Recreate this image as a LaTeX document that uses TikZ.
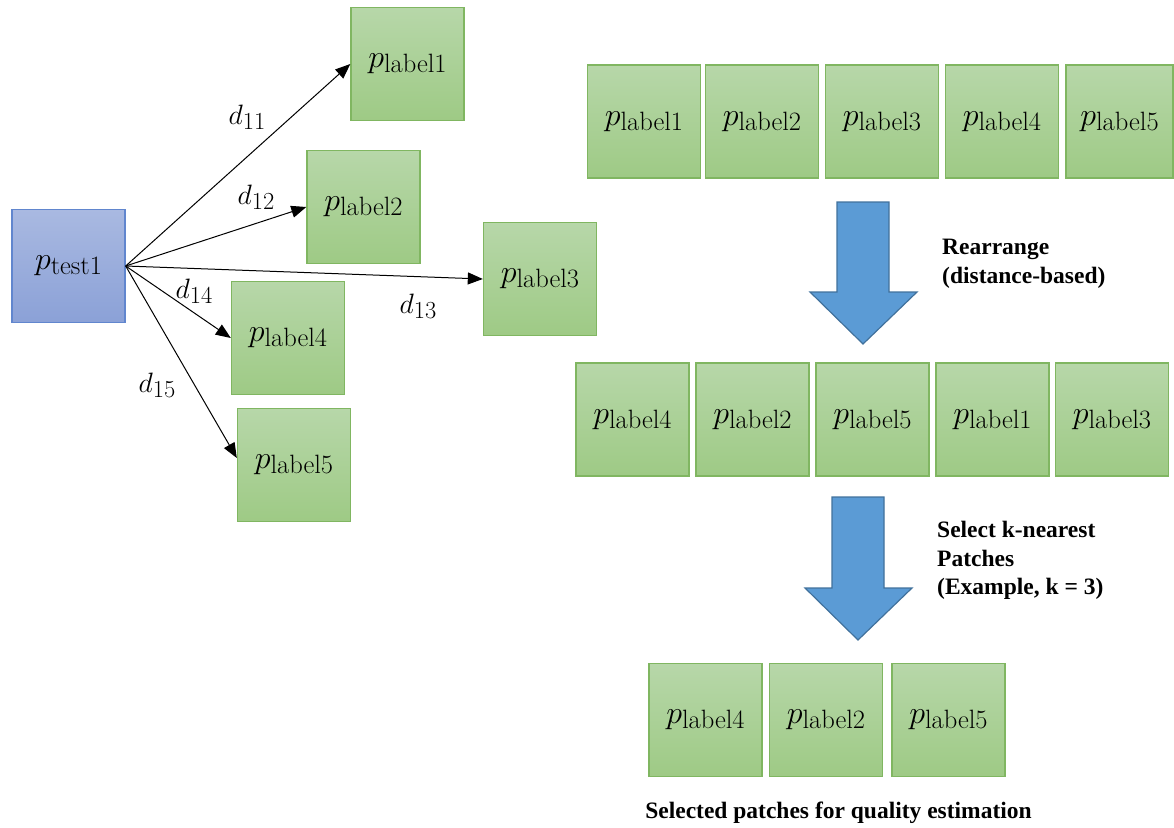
\RequirePackage{fix-cm}
\documentclass[tikz,border=0pt]{standalone}
\usepackage{fontspec}
\newfontfamily\tnr{Liberation Serif}
\usetikzlibrary{arrows.meta,calc}

\definecolor{patchtop}{HTML}{B7D7A9}
\definecolor{patchbot}{HTML}{9ECA85}
\definecolor{patchedge}{HTML}{80B661}
\definecolor{testtop}{HTML}{A9B9E1}
\definecolor{testbot}{HTML}{8BA1D7}
\definecolor{testedge}{HTML}{6186CE}
\definecolor{arrowfill}{HTML}{5B9BD5}
\definecolor{arrowedge}{HTML}{41719C}

% patch name: italic p with an upright, lowered subscript
\newcommand{\patchname}[1]{{\fontsize{32}{32}\selectfont$p$}\raisebox{-5pt}{\fontsize{26.5}{26.5}\selectfont #1}}
% distance name: italic d with a lowered numeric subscript
\newcommand{\distname}[1]{{\fontsize{28}{28}\selectfont$d$}\raisebox{-5pt}{\fontsize{24.5}{24.5}\selectfont #1}}

\begin{document}
\begin{tikzpicture}[x=1pt,y=-1pt,
  patchbox/.style={draw=patchedge, line width=1.4pt, top color=patchtop, bottom color=patchbot,
    minimum width=113pt, minimum height=113pt, inner sep=0pt},
  testbox/.style={draw=testedge, line width=1.4pt, top color=testtop, bottom color=testbot,
    minimum width=113pt, minimum height=113pt, inner sep=0pt},
  conn/.style={line width=1pt, -{Triangle[length=15pt,width=12pt]}},
  dlabel/.style={inner sep=0pt},
  bigarrow/.style={fill=arrowfill, draw=arrowedge, line width=1.2pt, line join=miter},
  note/.style={font=\tnr\bfseries\fontsize{23.5}{28.5}\selectfont, align=left, inner sep=0pt, anchor=north west}
]
\useasboundingbox (0,0) rectangle (1174,827);

% --- distances from the test patch to each labelled patch ---
\node[testbox]  (t)  at (68.5,266) {\patchname{test1}};
\node[patchbox] (l1) at (407.5,64) {\patchname{label1}};
\node[patchbox] (l2) at (363.5,207) {\patchname{label2}};
\node[patchbox] (l3) at (540,279) {\patchname{label3}};
\node[patchbox] (l4) at (288,338) {\patchname{label4}};
\node[patchbox] (l5) at (294,465) {\patchname{label5}};

\draw[conn] (t.east) -- (l1.west);
\draw[conn] (t.east) -- (l2.west);
\draw[conn] (t.east) -- (l3.west);
\draw[conn] (t.east) -- (l4.west);
\draw[conn] (t.east) -- ([yshift=7pt]l5.west);

\node[dlabel] (d11) at (247,117) {\distname{11}};
\node[dlabel] (d12) at (256,197) {\distname{12}};
\node[dlabel] (d13) at (418,306) {\distname{13}};
\node[dlabel] (d14) at (194,291) {\distname{14}};
\node[dlabel] (d15) at (157,385) {\distname{15}};

% --- original order ---
\node[patchbox] (a1) at (644,121.5) {\patchname{label1}};
\node[patchbox] (a2) at (762,121.5) {\patchname{label2}};
\node[patchbox] (a3) at (882,121.5) {\patchname{label3}};
\node[patchbox] (a4) at (1002,121.5) {\patchname{label4}};
\node[patchbox, minimum width=107pt] (a5) at (1119.5,121.5) {\patchname{label5}};

% --- rearrange step ---
\draw[bigarrow] (837,202) -- (889,202) -- (889,292) -- (917,292) -- (863,344)
  -- (810,292) -- (837,292) -- cycle;
\node[note] (rearr) at (942,239) {Rearrange\\(distance-based)};

% --- sorted by distance ---
\node[patchbox] (b1) at (632.5,419.5) {\patchname{label4}};
\node[patchbox] (b2) at (752.5,419.5) {\patchname{label2}};
\node[patchbox] (b3) at (872.5,419.5) {\patchname{label5}};
\node[patchbox] (b4) at (992.5,419.5) {\patchname{label1}};
\node[patchbox] (b5) at (1112,419.5) {\patchname{label3}};

% --- selection step ---
\draw[bigarrow] (832,497) -- (884,497) -- (884,588) -- (912,588) -- (858,640)
  -- (805,588) -- (832,588) -- cycle;
\node[note] (sel) at (937,521) {Select k-nearest\\Patches\\(Example, k = 3)};

% --- selected patches ---
\node[patchbox] (c1) at (705.5,720) {\patchname{label4}};
\node[patchbox] (c2) at (826,720) {\patchname{label2}};
\node[patchbox] (c3) at (948.5,720) {\patchname{label5}};

\node[font=\tnr\bfseries\fontsize{23.5}{28}\selectfont, inner sep=0pt, anchor=base] (cap)
  at (838.5,818) {Selected patches for quality estimation};
\end{tikzpicture}
\end{document}
